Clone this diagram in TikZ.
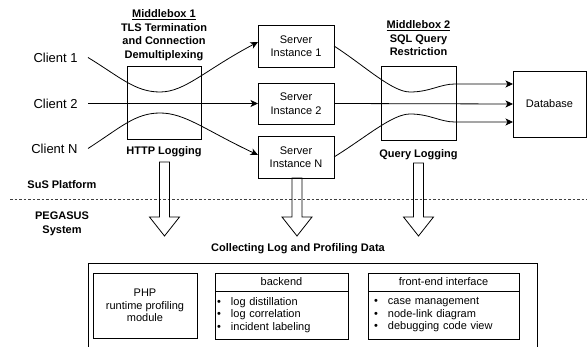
\documentclass[tikz,border=0pt]{standalone}
\usepackage{fontspec}
\setmainfont{Liberation Sans}
\usepackage{tikz}
\usetikzlibrary{arrows.meta,positioning,calc}

\newcommand{\itm}[1]{\makebox[14pt][l]{\textbullet}#1}

\begin{document}
\begin{tikzpicture}[
  x=1pt, y=-1pt,
  font=\fontsize{11}{13.5}\selectfont,
  line width=0.8pt,
  box/.style={draw, align=center, outer sep=0pt, inner sep=2pt},
  lbl/.style={align=center, font=\fontsize{11}{13.5}\selectfont\bfseries},
  client/.style={font=\fontsize{13}{15}\selectfont, inner xsep=10pt, anchor=east},
  listtext/.style={font=\fontsize{11}{12.5}\selectfont},
  flow/.style={-{Stealth[length=7.5pt,width=7pt,inset=2pt]}},
  fat/.style={draw, line join=miter},
  sep/.style={dash pattern=on 2.5pt off 2pt, black!75}
]
\useasboundingbox (0,0) rectangle (587,347);

% clients
\node[client] (c1) at (88,57.5) {Client 1};
\node[client] (c2) at (88,103.5) {Client 2};
\node[client] (cn) at (88,148.5) {Client N};

% middlebox 1
\node[box, minimum width=74pt, minimum height=73pt] (mb1) at (164,102.5) {};
\node[lbl] (mb1t) at (164,35) {\underline{Middlebox 1}\\TLS Termination\\and Connection\\Demultiplexing};
\node[lbl] (http) at (164,152) {HTTP Logging};

% server instances
\node[box, minimum width=76pt, minimum height=42pt] (s1) at (296,46) {Server\\Instance 1};
\node[box, minimum width=76pt, minimum height=41pt] (s2) at (296,103.5) {Server\\Instance 2};
\node[box, minimum width=76pt, minimum height=42pt] (sn) at (296,157) {Server\\Instance N};

% middlebox 2
\node[box, minimum width=75pt, minimum height=74pt] (mb2) at (418.5,103) {};
\node[lbl] (mb2t) at (418.5,38.5) {\underline{Middlebox 2}\\SQL Query\\Restriction};
\node[lbl] (qlog) at (418.5,154.5) {Query Logging};

% database
\node[box, minimum width=73pt, minimum height=66pt] (db) at (549.5,104) {Database};

% connections
\draw[flow] (c1.east) .. controls (120,77) and (135,92) .. (160,92) .. controls (185,92) and (205,70) .. ($(s1.west)+(0,-4)$);
\draw[flow] (c2.east) -- (s2.west);
\draw[flow] (cn.east) .. controls (120,128) and (135,113) .. (160,113) .. controls (185,113) and (205,130) .. ($(sn.west)+(0,-2)$);
\draw[flow] (s1.east) .. controls (365,66) and (392,92) .. (410,92) .. controls (430,92) and (440,84) .. (455,84) -- ($(db.west)+(0,-20)$);
\draw[flow] (s2.east) -- (db.west);
\draw[flow] (sn.east) .. controls (365,138) and (392,114) .. (410,114) .. controls (430,114) and (440,122) .. (455,122) -- ($(db.west)+(0,18)$);

% platform / system border
\draw[sep] (10,199) -- (587,199);
\node[lbl] (sus) at (62,185) {SuS Platform};
\node[lbl] (peg) at (62,224) {PEGASUS\\System};

% log data going down
\foreach \x/\t in {164.5/162, 297/178, 418.5/163}
  \draw[fat] (\x-5,\t) -- (\x-5,217) -- (\x-15,217) -- (\x,236) -- (\x+15,217) -- (\x+5,217) -- (\x+5,\t) -- cycle;

\node[lbl] (coll) at (298,249) {Collecting Log and Profiling Data};
\draw (88,347) -- (88,263) -- (537,263) -- (537,347);

% pegasus components
\node[box, minimum width=104pt, minimum height=65pt, listtext] (php) at (145,305.5) {PHP\\runtime profiling\\module};
\node[box, minimum width=133pt, minimum height=18pt] (bkhead) at (281.5,282) {backend};
\node[box, below=0pt of bkhead, text width=129pt, minimum height=48pt, align=left, listtext] (bkbody) {\itm{log distillation}\\\itm{log correlation}\\\itm{incident labeling}};
\node[box, minimum width=151pt, minimum height=18pt] (fehead) at (443.5,282) {front-end interface};
\node[box, below=0pt of fehead, text width=139pt, minimum height=48pt, align=left, inner xsep=6pt, listtext] (febody) {\itm{case management}\\\itm{node-link diagram}\\\itm{debugging code view}};
\end{tikzpicture}
\end{document}
